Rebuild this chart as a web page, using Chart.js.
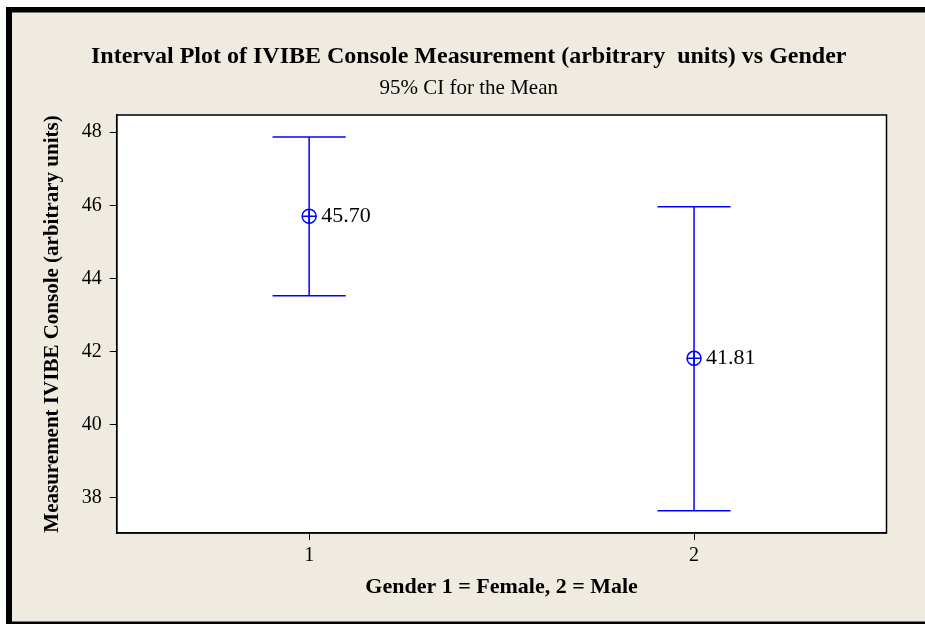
<!DOCTYPE html>
<html><head><meta charset="utf-8">
<script src="https://cdn.jsdelivr.net/npm/chart.js@4.4.0/dist/chart.umd.min.js"></script>
<style>html,body{margin:0;padding:0;background:#fff;} #wrap{position:relative;width:925px;height:624px;}</style>
</head><body><div id="wrap"><canvas id="c"></canvas></div>
<script>
// ---- data ----
const categories = [1, 2];
const meanValues = [45.70, 41.81];
const lowerCI = [43.52, 37.64];
const upperCI = [47.87, 45.96];
const yTickValues = [38, 40, 42, 44, 46, 48];
const xTickValues = [1, 2];
const xRange = [0.5, 2.5];
const yRange = [37.03, 48.47];

// ---- styles ----
const capHalfWidth = 0.095;
const BLUE = '#0000FF';
const BEIGE = '#EFEBE0';
const FONT = '"Liberation Serif", "Times New Roman", serif';

Chart.defaults.font.family = FONT;
Chart.defaults.color = '#000';

const lineSeg = (pts) => ({
  data: pts, showLine: true, borderColor: BLUE, borderWidth: 1.5,
  pointRadius: 0, fill: false, tension: 0
});
const datasets = [];
categories.forEach((c, i) => {
  datasets.push(lineSeg([{x: c, y: lowerCI[i]}, {x: c, y: upperCI[i]}]));
  datasets.push(lineSeg([{x: c - capHalfWidth, y: upperCI[i]}, {x: c + capHalfWidth, y: upperCI[i]}]));
  datasets.push(lineSeg([{x: c - capHalfWidth, y: lowerCI[i]}, {x: c + capHalfWidth, y: lowerCI[i]}]));
});
const meanPts = categories.map((c, i) => ({x: c, y: meanValues[i]}));
datasets.unshift({data: meanPts, showLine: false, pointStyle: 'circle', pointRadius: 7,
  borderColor: BLUE, borderWidth: 1.5, backgroundColor: 'rgba(0,0,0,0)'});
datasets.unshift({data: meanPts, showLine: false, pointStyle: 'cross', pointRadius: 7,
  borderColor: BLUE, borderWidth: 1.5});

const framePlugin = {
  id: 'frame',
  beforeDraw(chart) {
    const {ctx, chartArea: ca} = chart;
    ctx.save();
    ctx.fillStyle = '#fff'; ctx.fillRect(0, 0, 925, 624);
    ctx.fillStyle = '#000'; ctx.fillRect(6, 7, 919, 617);
    ctx.fillStyle = BEIGE; ctx.fillRect(12, 12.5, 913, 609);
    ctx.fillStyle = '#fff'; ctx.fillRect(ca.left, ca.top, ca.right - ca.left, ca.bottom - ca.top);
    ctx.restore();
  },
  afterDraw(chart) {
    const {ctx, chartArea: ca} = chart;
    ctx.save();
    ctx.strokeStyle = '#000'; ctx.lineWidth = 1.5;
    ctx.strokeRect(ca.left, ca.top, ca.right - ca.left, ca.bottom - ca.top);
    ctx.restore();
  }
};

const valueLabelPlugin = {
  id: 'valueLabels',
  afterDatasetsDraw(chart) {
    const {ctx, scales: {x, y}} = chart;
    ctx.save();
    ctx.font = '22px ' + FONT;
    ctx.fillStyle = '#000';
    ctx.textBaseline = 'middle';
    ctx.textAlign = 'left';
    categories.forEach((c, i) => {
      ctx.fillText(meanValues[i].toFixed(2), x.getPixelForValue(c) + 12, y.getPixelForValue(meanValues[i]));
    });
    ctx.restore();
  }
};

new Chart(document.getElementById('c'), {
  type: 'scatter',
  data: {datasets},
  plugins: [framePlugin, valueLabelPlugin],
  options: {
    responsive: true, maintainAspectRatio: false, animation: false, events: [],
    layout: {padding: {left: 51, right: 38.5, top: 20, bottom: 0}},
    plugins: {
      legend: {display: false}, tooltip: {enabled: false},
      title: {display: true, text: 'Interval Plot of IVIBE Console Measurement (arbitrary  units) vs Gender',
        font: {size: 24, weight: 'bold'}, color: '#000', padding: {top: 22.6, bottom: 0}},
      subtitle: {display: true, text: '95% CI for the Mean',
        font: {size: 21}, color: '#000', padding: {top: 4, bottom: 14.4}}
    },
    scales: {
      x: {
        type: 'linear', min: xRange[0], max: xRange[1],
        afterBuildTicks: (s) => { s.ticks = xTickValues.map(v => ({value: v})); },
        afterFit: (s) => { s.height = 91; },
        ticks: {font: {size: 20}, color: '#000', padding: 4, callback: (v) => String(v)},
        grid: {drawOnChartArea: false, drawTicks: true, tickLength: 7, color: '#000', lineWidth: 1},
        border: {display: true, color: '#000', width: 1.5},
        title: {display: true, text: 'Gender 1 = Female, 2 = Male', font: {size: 22, weight: 'bold'},
          color: '#000', padding: {top: 0, bottom: 23.9}}
      },
      y: {
        type: 'linear', min: yRange[0], max: yRange[1],
        afterBuildTicks: (s) => { s.ticks = yTickValues.map(v => ({value: v})); },
        afterFit: (s) => { s.width = 65.7; },
        ticks: {font: {size: 20}, color: '#000', padding: 8, callback: (v) => String(v)},
        grid: {drawOnChartArea: false, drawTicks: true, tickLength: 7, color: '#000', lineWidth: 1},
        border: {display: true, color: '#000', width: 1.5},
        title: {display: true, text: 'Measurement IVIBE Console (arbitrary units)', font: {size: 21, weight: 'bold'},
          color: '#000', padding: {top: -10.6, bottom: 0}}
      }
    }
  }
});
</script>
</body></html>
